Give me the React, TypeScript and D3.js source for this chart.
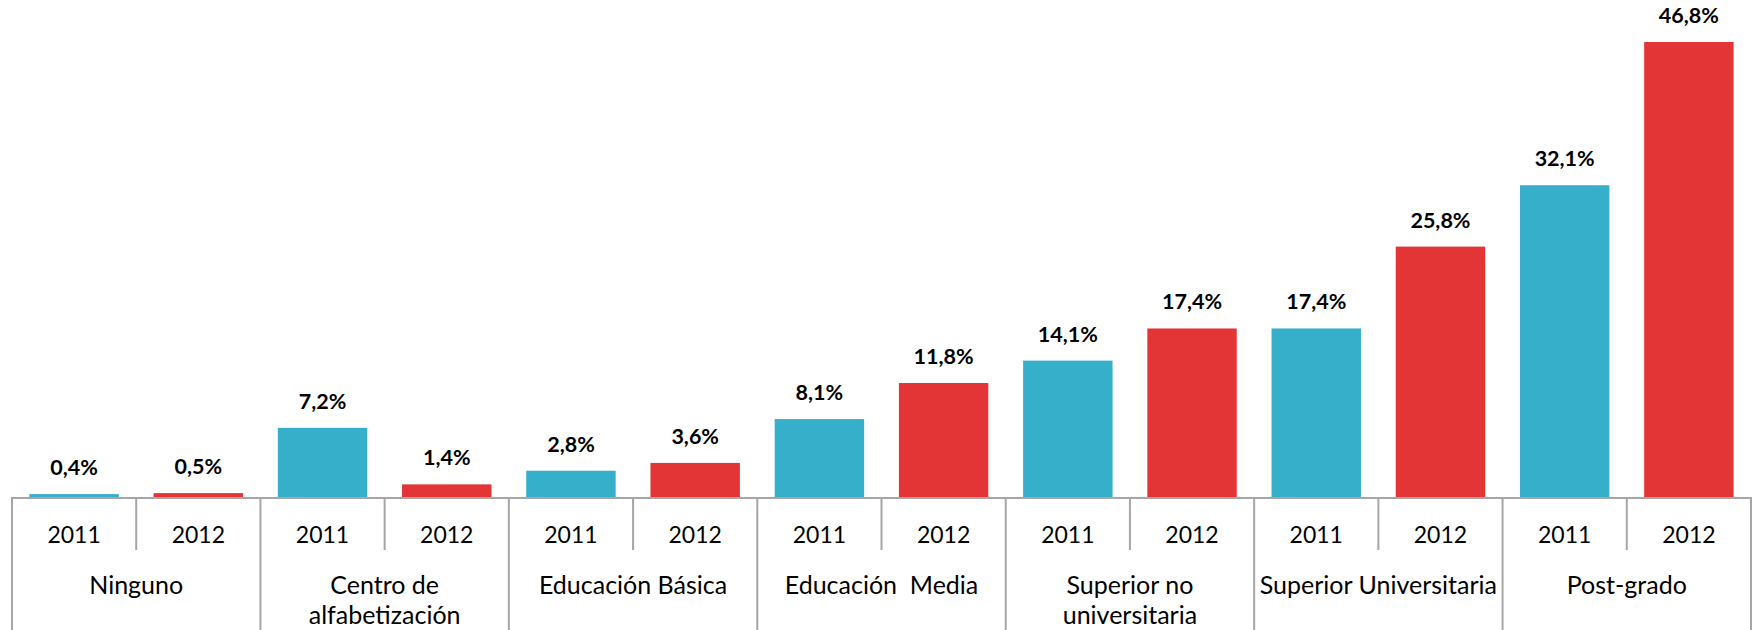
import React from "react";
import * as d3 from "d3";

const categories = [
  "Ninguno",
  "Centro de\nalfabetización",
  "Educación Básica",
  "Educación  Media",
  "Superior no\nuniversitaria",
  "Superior Universitaria",
  "Post-grado",
];
const years = ["2011", "2012"];
const values2011 = [0.4, 7.2, 2.8, 8.1, 14.1, 17.4, 32.1];
const values2012 = [0.5, 1.4, 3.6, 11.8, 17.4, 25.8, 46.8];

const W = 1752;
const H = 630;
const left = 12;
const right = 1751;
const axisY = 498;
const topY = 42;
const colors: Record<string, string> = { "2011": "#36B0CA", "2012": "#E33535" };
const FONT = "Lato, 'Open Sans', sans-serif";

export default function App() {
  const bars = categories.flatMap((c, i) => [
    { key: `${i}-${years[0]}`, group: i, year: years[0], value: values2011[i] },
    { key: `${i}-${years[1]}`, group: i, year: years[1], value: values2012[i] },
  ]);
  const x = d3
    .scaleBand<string>()
    .domain(bars.map((b) => b.key))
    .range([left, right])
    .paddingInner(0.28)
    .paddingOuter(0.14);
  const slot = d3.scaleBand<string>().domain(bars.map((b) => b.key)).range([left, right]);
  const gx = d3
    .scaleBand<number>()
    .domain(categories.map((_, i) => i))
    .range([left, right]);
  const y = d3.scaleLinear().domain([0, 46.8]).range([axisY, topY]);
  const fmt = (v: number) => v.toFixed(1).replace(".", ",") + "%";

  return (
    <svg width={W} height={H} style={{ position: "absolute", left: 0, top: 0, background: "#fff" }}>
      {bars.map((b) => (
        <g key={b.key}>
          <rect
            x={x(b.key)}
            y={y(b.value)}
            width={x.bandwidth()}
            height={axisY - y(b.value)}
            fill={colors[b.year]}
          />
          <text
            x={(x(b.key) as number) + x.bandwidth() / 2}
            y={y(b.value) - 19}
            textAnchor="middle"
            fontFamily={FONT}
            fontWeight="bold"
            fontSize={21.5}
            fill="#000"
          >
            {fmt(b.value)}
          </text>
          <text
            x={(slot(b.key) as number) + slot.bandwidth() / 2}
            y={543}
            textAnchor="middle"
            fontFamily={FONT}
            fontSize={23}
            fill="#000"
          >
            {b.year}
          </text>
        </g>
      ))}
      {categories.map((_, i) => (
        <line
          key={`m${i}`}
          x1={(gx(i) as number) + gx.bandwidth() / 2}
          x2={(gx(i) as number) + gx.bandwidth() / 2}
          y1={axisY}
          y2={550}
          stroke="#A6A6A6"
          strokeWidth={2}
        />
      ))}
      {[...categories.map((_, i) => gx(i) as number), right].map((px, i) => (
        <line key={`g${i}`} x1={px} x2={px} y1={axisY} y2={H} stroke="#A6A6A6" strokeWidth={2} />
      ))}
      <line x1={left - 1} x2={right + 1} y1={axisY} y2={axisY} stroke="#A6A6A6" strokeWidth={2} />
      {categories.map((c, i) => (
        <text
          key={`c${i}`}
          x={(gx(i) as number) + gx.bandwidth() / 2}
          y={594}
          textAnchor="middle"
          fontFamily={FONT}
          fontSize={25}
          fill="#000"
          style={{ whiteSpace: "pre" }}
        >
          {c.split("\n").map((line, j) => (
            <tspan key={j} x={(gx(i) as number) + gx.bandwidth() / 2} dy={j === 0 ? 0 : 30}>
              {line}
            </tspan>
          ))}
        </text>
      ))}
    </svg>
  );
}
